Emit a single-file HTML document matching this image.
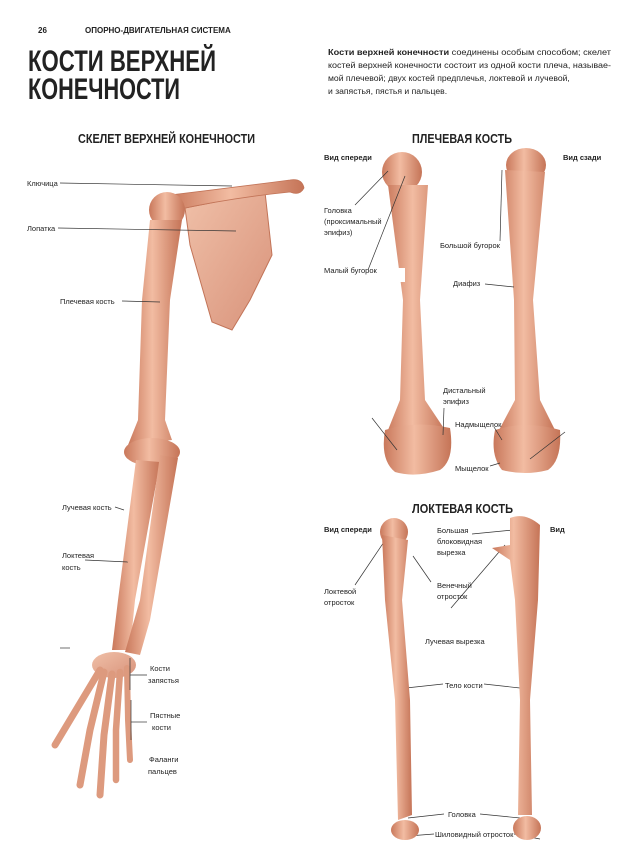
<!DOCTYPE html>
<html><head><meta charset="utf-8"><style>
body{margin:0;background:#fff;width:619px;height:866px;overflow:hidden}
svg{display:block}
text{font-family:"Liberation Sans",sans-serif;fill:#222}
.s{font-size:7.5px}
.b{font-weight:bold}
</style></head><body>
<svg width="619" height="866" viewBox="0 0 619 866" xmlns="http://www.w3.org/2000/svg">
<defs>
<linearGradient id="g" x1="0" x2="1"><stop offset="0" stop-color="#c9785b"/><stop offset=".45" stop-color="#f2bca2"/><stop offset="1" stop-color="#c57457"/></linearGradient>
<linearGradient id="gs" x1="0" x2="1" y1="0" y2="1"><stop offset="0" stop-color="#f0c0a8"/><stop offset="1" stop-color="#d8927a"/></linearGradient>
</defs>
<text x="38" y="33" class="b" font-size="8">26</text>
<text x="85" y="33" class="b" font-size="8">ОПОРНО-ДВИГАТЕЛЬНАЯ СИСТЕМА</text>
<text x="28" y="71" class="b" font-size="30" textLength="188" lengthAdjust="spacingAndGlyphs">КОСТИ ВЕРХНЕЙ</text>
<text x="28" y="99" class="b" font-size="30" textLength="152" lengthAdjust="spacingAndGlyphs">КОНЕЧНОСТИ</text>
<g font-size="8.6">
<text x="328" y="55" textLength="283" lengthAdjust="spacingAndGlyphs"><tspan font-weight="bold">Кости верхней конечности</tspan> соединены особым способом; скелет</text>
<text x="328" y="68" textLength="283" lengthAdjust="spacingAndGlyphs">костей верхней конечности состоит из одной кости плеча, называе-</text>
<text x="328" y="81">мой плечевой; двух костей предплечья, локтевой и лучевой,</text>
<text x="328" y="94">и запястья, пястья и пальцев.</text>
</g>
<text x="78" y="143" class="b" font-size="12.5" textLength="177" lengthAdjust="spacingAndGlyphs">СКЕЛЕТ ВЕРХНЕЙ КОНЕЧНОСТИ</text>
<text x="412" y="143" class="b" font-size="12.5" textLength="100" lengthAdjust="spacingAndGlyphs">ПЛЕЧЕВАЯ КОСТЬ</text>
<text x="412" y="513" class="b" font-size="12.5" textLength="101" lengthAdjust="spacingAndGlyphs">ЛОКТЕВАЯ КОСТЬ</text>

<!-- arm skeleton -->
<path d="M185 208 L265 192 L272 255 L250 300 L232 330 L212 322 L200 280 L190 245Z" fill="url(#gs)" stroke="#c27458" stroke-width="1"/>
<path d="M170 195 Q230 188 290 180 Q302 178 304 188 Q300 196 290 192 Q230 198 176 210Z" fill="url(#g)" stroke="#c27458" stroke-width=".8"/>
<circle cx="167" cy="210" r="18" fill="url(#g)"/>
<path d="M150 220 L182 220 L170 300 L165 420 L172 440 L128 445 L138 420 L142 300Z" fill="url(#g)"/>
<ellipse cx="152" cy="452" rx="28" ry="14" fill="url(#g)"/>
<path d="M136 460 L160 462 L135 600 L130 650 L112 650 L118 600Z" fill="url(#g)"/>
<path d="M160 455 L178 458 L150 620 L140 655 L125 652 L140 600Z" fill="url(#g)"/>
<ellipse cx="114" cy="665" rx="22" ry="13" fill="url(#gs)"/>
<g stroke="#dd9a7e" stroke-linecap="round" fill="none">
<path d="M100 670 L70 720 L55 745" stroke-width="7"/>
<path d="M104 672 L90 730 L80 785" stroke-width="7"/>
<path d="M112 674 L104 735 L100 795" stroke-width="7"/>
<path d="M120 672 L116 730 L116 780" stroke-width="6.5"/>
<path d="M127 668 L128 720 L130 760" stroke-width="6"/>
</g>
<g stroke="#333" stroke-width=".7" fill="none">
<line x1="60" y1="183" x2="232" y2="186"/>
<line x1="58" y1="228" x2="236" y2="231"/>
<line x1="122" y1="301" x2="160" y2="302"/>
<line x1="115" y1="507" x2="124" y2="510"/>
<line x1="85" y1="560" x2="128" y2="562"/>
<line x1="130" y1="658" x2="130" y2="690"/><line x1="130" y1="675" x2="147" y2="675"/>
<line x1="131" y1="700" x2="131" y2="740"/><line x1="131" y1="722" x2="147" y2="722"/>
<line x1="60" y1="648" x2="70" y2="648"/>
</g>
<g class="s">
<text x="27" y="186">Ключица</text>
<text x="27" y="231">Лопатка</text>
<text x="60" y="304">Плечевая кость</text>
<text x="62" y="510">Лучевая кость</text>
<text x="62" y="558">Локтевая</text><text x="62" y="570">кость</text>
<text x="150" y="671">Кости</text><text x="148" y="683">запястья</text>
<text x="150" y="718">Пястные</text><text x="152" y="730">кости</text>
<text x="149" y="762">Фаланги</text><text x="148" y="774">пальцев</text>
</g>

<!-- humerus front -->
<ellipse cx="402" cy="172" rx="20" ry="20" fill="url(#g)"/>
<path d="M388 185 L428 185 L420 300 L425 400 L445 430 L386 435 L400 400 L403 300Z" fill="url(#g)"/>
<path d="M385 430 Q415 420 450 428 Q455 460 440 470 Q415 478 395 472 Q380 460 385 430Z" fill="url(#g)"/>
<rect x="398" y="268" width="7" height="14" fill="#fff"/>
<!-- humerus back -->
<ellipse cx="526" cy="165" rx="20" ry="17" fill="url(#g)"/>
<path d="M505 170 L545 172 L533 300 L540 400 L555 430 L498 432 L515 400 L514 300Z" fill="url(#g)"/>
<path d="M495 430 Q525 420 560 430 Q562 460 548 470 Q525 476 502 470 Q490 455 495 430Z" fill="url(#g)"/>
<g stroke="#333" stroke-width=".7" fill="none">
<line x1="355" y1="205" x2="388" y2="171"/>
<line x1="368" y1="270" x2="405" y2="176"/>
<line x1="500" y1="241" x2="502" y2="170"/>
<line x1="485" y1="284" x2="514" y2="287"/>
<line x1="444" y1="408" x2="443" y2="435"/>
<line x1="372" y1="418" x2="397" y2="450"/>
<line x1="494" y1="427" x2="502" y2="440"/>
<line x1="490" y1="466" x2="500" y2="463"/>
<line x1="565" y1="432" x2="530" y2="459"/>
<line x1="451" y1="608" x2="505" y2="545"/>
<line x1="355" y1="585" x2="392" y2="530"/>
<line x1="431" y1="582" x2="413" y2="556"/>
<line x1="472" y1="534" x2="513" y2="530"/>
<line x1="406" y1="688" x2="443" y2="684"/><line x1="484" y1="684" x2="520" y2="688"/>
<line x1="408" y1="818" x2="444" y2="814"/><line x1="480" y1="814" x2="520" y2="818"/>
<line x1="408" y1="836" x2="434" y2="834"/><line x1="514" y1="834" x2="540" y2="839"/>
</g>
<g class="s">
<text x="324" y="160" class="b">Вид спереди</text>
<text x="563" y="160" class="b">Вид сзади</text>
<text x="324" y="213">Головка</text><text x="324" y="224">(проксимальный</text><text x="324" y="235">эпифиз)</text>
<text x="324" y="273">Малый бугорок</text>
<text x="440" y="248">Большой бугорок</text>
<text x="453" y="286">Диафиз</text>
<text x="443" y="393">Дистальный</text><text x="443" y="404">эпифиз</text>
<text x="455" y="427">Надмыщелок</text>
<text x="455" y="471">Мыщелок</text>
</g>

<!-- ulna front -->
<ellipse cx="394" cy="532" rx="14" ry="14" fill="url(#g)"/>
<path d="M382 535 L408 540 L402 600 L410 700 L412 815 L398 820 L395 700 L385 600Z" fill="url(#g)"/>
<ellipse cx="405" cy="830" rx="14" ry="10" fill="url(#g)"/>
<!-- ulna back -->
<path d="M510 518 Q525 512 540 525 L538 600 L530 700 L532 815 L518 815 L520 700 L515 600 L510 560 L492 548 L510 545Z" fill="url(#g)"/>
<ellipse cx="527" cy="828" rx="14" ry="12" fill="url(#g)"/>
<g class="s">
<text x="324" y="532" class="b">Вид спереди</text>
<text x="550" y="532" class="b">Вид</text>
<text x="437" y="533">Большая</text><text x="437" y="544">блоковидная</text><text x="437" y="555">вырезка</text>
<text x="324" y="594">Локтевой</text><text x="324" y="605">отросток</text>
<text x="437" y="588">Венечный</text><text x="437" y="599">отросток</text>
<text x="425" y="644">Лучевая вырезка</text>
<text x="445" y="688">Тело кости</text>
<text x="448" y="817">Головка</text>
<text x="435" y="837">Шиловидный отросток</text>
</g>
</svg>
</body></html>
